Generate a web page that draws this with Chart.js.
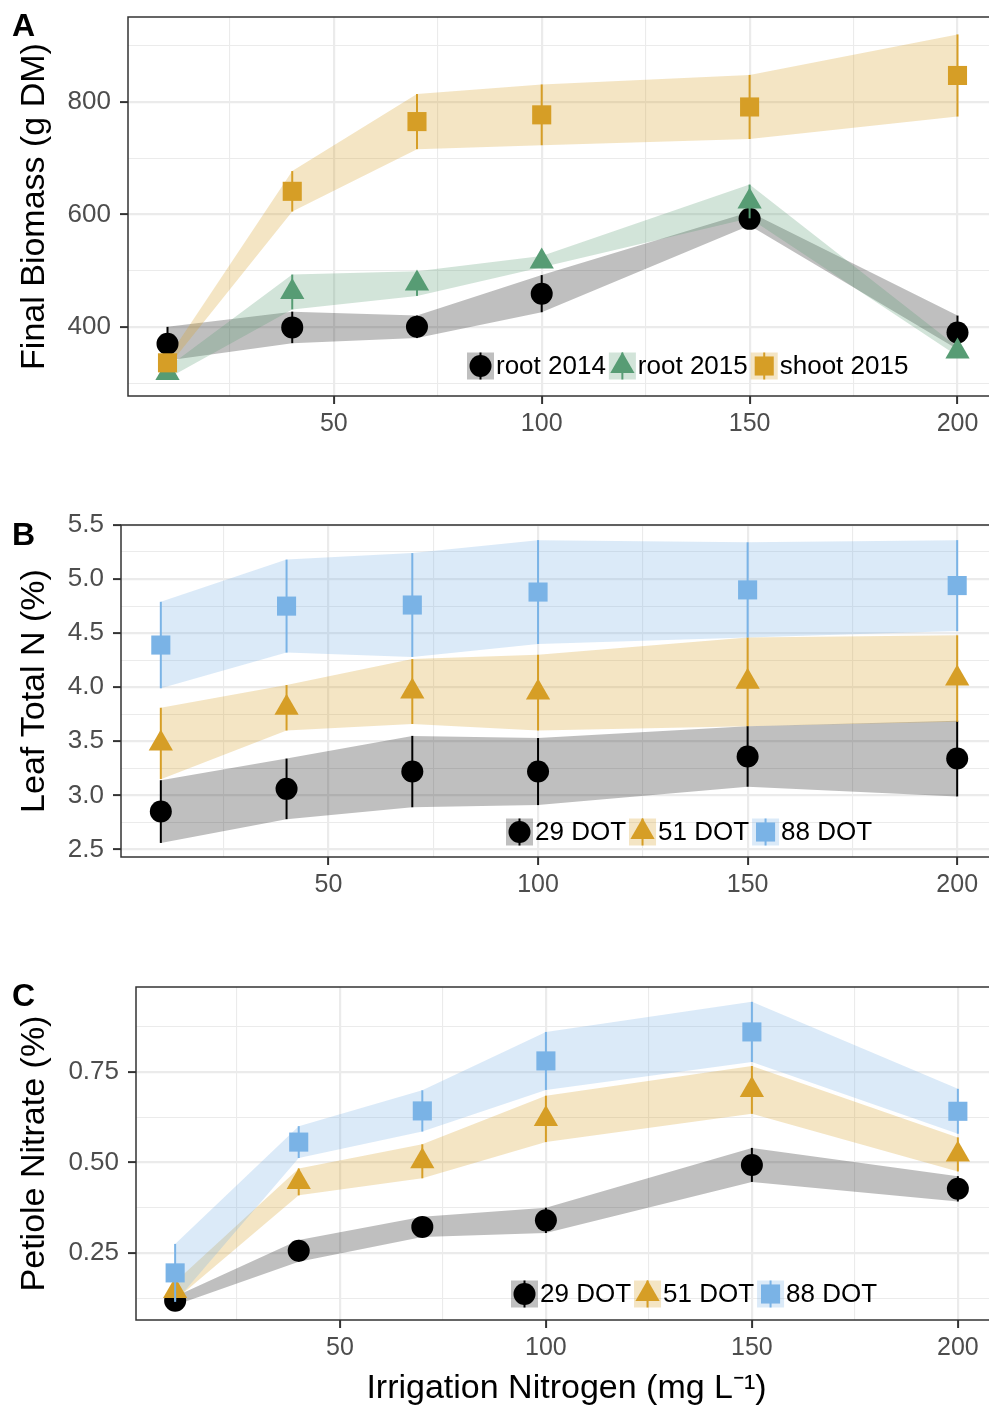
<!DOCTYPE html>
<html>
<head>
<meta charset="utf-8">
<script src="https://cdn.jsdelivr.net/npm/chart.js@4.4.0/dist/chart.umd.min.js"></script>
<style>
html, body { margin: 0; padding: 0; background: #fff; overflow: hidden; width: 989px; height: 1411px; position: relative; }
canvas { position: absolute; left: 0; }
</style>
</head>
<body>
<canvas id="chartA" width="997" height="441" style="top:0;width:997px;height:441px"></canvas>
<canvas id="chartB" width="997" height="432" style="top:470px;width:997px;height:432px"></canvas>
<canvas id="chartC" width="997" height="461" style="top:950px;width:997px;height:461px"></canvas>
<script>
// irrigation nitrogen levels (mg/L)
const nitrogen = [10, 40, 70, 100, 150, 200];
const xTicks = [25, 50, 75, 100, 125, 150, 175, 200];
const xLabels = [50, 100, 150, 200];

// A: final biomass (g DM), mean and SE
const root2014 = [370, 399, 400, 459, 592, 390];
const root2014Se = [30, 28, 20, 33, 12, 30];
const root2015 = [318, 462, 477, 516, 623, 356];
const root2015Se = [10, 31, 22, 10, 30, 8];
const shoot2015 = [336, 641, 765, 777, 791, 847];
const shoot2015Se = [8, 36, 49, 54, 57, 73];
const biomassTicks = [300, 400, 500, 600, 700, 800, 900];
const biomassLabels = [400, 600, 800];

// B: leaf total N (%)
const leafN29 = [2.85, 3.06, 3.22, 3.22, 3.36, 3.34];
const leafN29Se = [0.29, 0.28, 0.33, 0.31, 0.28, 0.35];
const leafN51 = [3.48, 3.81, 3.96, 3.95, 4.05, 4.08];
const leafN51Se = [0.33, 0.21, 0.30, 0.35, 0.41, 0.40];
const leafN88 = [4.39, 4.75, 4.76, 4.88, 4.90, 4.94];
const leafN88Se = [0.40, 0.43, 0.48, 0.48, 0.44, 0.42];
const leafTicks = [2.5, 2.75, 3.0, 3.25, 3.5, 3.75, 4.0, 4.25, 4.5, 4.75, 5.0, 5.25, 5.5];
const leafLabels = [2.5, 3.0, 3.5, 4.0, 4.5, 5.0, 5.5];

// C: petiole nitrate (%)
const nitrate29 = [0.118, 0.256, 0.322, 0.340, 0.493, 0.427];
const nitrate29Se = [0.012, 0.03, 0.028, 0.035, 0.047, 0.035];
const nitrate51 = [0.145, 0.446, 0.503, 0.620, 0.700, 0.522];
const nitrate51Se = [0.025, 0.037, 0.047, 0.064, 0.066, 0.047];
const nitrate88 = [0.195, 0.556, 0.642, 0.780, 0.860, 0.641];
const nitrate88Se = [0.08, 0.044, 0.057, 0.08, 0.083, 0.062];
const nitrateTicks = [0.125, 0.25, 0.375, 0.5, 0.625, 0.75, 0.875];
const nitrateLabels = [0.25, 0.5, 0.75];

const FONT = "'Liberation Sans', Arial, Helvetica, sans-serif";
Chart.defaults.font.family = FONT;
Chart.defaults.color = '#4d4d4d';

const BLACK = '#000000', ORANGE = '#D69E26', GREEN = '#579C74', BLUE = '#7AB3E6';
const fade = (hex, a) => {
    const n = parseInt(hex.slice(1), 16);
    return `rgba(${n >> 16},${(n >> 8) & 255},${n & 255},${a})`;
};

function band(values, se, sign) {
    return nitrogen.map((x, i) => ({ x: x, y: values[i] + sign * se[i] }));
}

function gridOpts(majors) {
    const isMajor = ctx => ctx.tick && majors.some(m => Math.abs(m - ctx.tick.value) < 1e-9);
    return {
        color: '#ebebeb',
        lineWidth: ctx => isMajor(ctx) ? 2.2 : 1.1,
        tickColor: ctx => isMajor(ctx) ? '#333333' : 'rgba(0,0,0,0)',
        tickWidth: 2,
        tickLength: 8
    };
}

const errorBars = {
    id: 'errorBars',
    beforeDatasetDraw(chart, args) {
        const ds = chart.data.datasets[args.index];
        if (!ds.err) return;
        const ctx = chart.ctx, x = chart.scales.x, y = chart.scales.y;
        ctx.save();
        ctx.strokeStyle = ds.errColor;
        ctx.lineWidth = 2;
        ds.data.forEach((p, i) => {
            const px = x.getPixelForValue(p.x);
            ctx.beginPath();
            ctx.moveTo(px, y.getPixelForValue(p.y + ds.err[i]));
            ctx.lineTo(px, y.getPixelForValue(p.y - ds.err[i]));
            ctx.stroke();
        });
        ctx.restore();
    }
};

const panelBorder = {
    id: 'panelBorder',
    afterDatasetsDraw(chart) {
        const a = chart.chartArea, ctx = chart.ctx;
        ctx.save();
        ctx.strokeStyle = '#333333';
        ctx.lineWidth = 1.5;
        ctx.strokeRect(a.left, a.top, a.right - a.left, a.bottom - a.top);
        ctx.restore();
    }
};

const keyAndLetter = {
    id: 'keyAndLetter',
    afterDraw(chart, args, opts) {
        const ctx = chart.ctx;
        ctx.save();
        // panel letter
        ctx.fillStyle = '#000';
        ctx.font = `bold 32px ${FONT}`;
        ctx.textBaseline = 'alphabetic';
        ctx.textAlign = 'left';
        ctx.fillText(opts.letter, 12, opts.letterY);
        // legend
        let x = opts.x;
        const cy = opts.y, box = 27;
        ctx.font = `26px ${FONT}`;
        ctx.textBaseline = 'middle';
        opts.series.forEach(s => {
            ctx.fillStyle = s.ribbon;
            ctx.fillRect(x, cy - box / 2, box, box);
            ctx.strokeStyle = s.color;
            ctx.lineWidth = 2;
            ctx.beginPath();
            ctx.moveTo(x + box / 2, cy - box / 2);
            ctx.lineTo(x + box / 2, cy + box / 2);
            ctx.stroke();
            ctx.fillStyle = s.color;
            Chart.helpers.drawPoint(ctx, { pointStyle: s.style, radius: s.radius, rotation: 0, borderWidth: 0 }, x + box / 2, cy);
            ctx.fillStyle = '#000';
            ctx.fillText(s.label, x + box + 2, cy + 1);
            x += box + 2 + ctx.measureText(s.label).width + 3;
        });
        ctx.restore();
    }
};

function makePanel(id, p) {
    const datasets = [];
    const n = p.series.length;
    p.series.forEach((s, i) => {
        datasets.push({ data: band(s.values, s.se, 1), borderColor: 'rgba(0,0,0,0)', borderWidth: 0,
            pointRadius: 0, fill: false, order: 20 + n - i });
        datasets.push({ data: band(s.values, s.se, -1), borderColor: 'rgba(0,0,0,0)', borderWidth: 0,
            pointRadius: 0, fill: '-1', backgroundColor: s.ribbon, order: 20 + n - i });
        datasets.push({ label: s.label, data: nitrogen.map((x, j) => ({ x: x, y: s.values[j] })),
            showLine: false, pointStyle: s.style, pointRadius: s.radius, pointBackgroundColor: s.color,
            pointBorderWidth: 0, pointHoverRadius: s.radius, err: s.se, errColor: s.color, order: n - i });
    });

    return new Chart(document.getElementById(id), {
        type: 'line',
        data: { datasets: datasets },
        plugins: [errorBars, panelBorder, keyAndLetter],
        options: {
            responsive: false,
            animation: false,
            devicePixelRatio: 1,
            layout: { autoPadding: false, padding: { top: p.padTop, left: 0, right: 0, bottom: 0 } },
            plugins: {
                legend: { display: false },
                tooltip: { enabled: false },
                keyAndLetter: { letter: p.letter, letterY: p.letterY, x: p.legendX, y: p.legendY, series: p.series }
            },
            scales: {
                x: {
                    type: 'linear', min: 0.5, max: 209.5,
                    afterBuildTicks: sc => { sc.ticks = xTicks.map(v => ({ value: v })); },
                    afterFit: sc => { sc.height = p.xHeight; sc.paddingLeft = 0; sc.paddingRight = 0; },
                    ticks: { callback: v => xLabels.includes(v) ? String(v) : '', font: { size: 25 },
                        color: '#4d4d4d', padding: 5, maxRotation: 0, autoSkip: false },
                    grid: gridOpts(xLabels),
                    border: { display: false },
                    title: p.xTitle
                        ? { display: true, text: p.xTitle, color: '#000', font: { size: 34 }, padding: { top: 0, bottom: 2 } }
                        : { display: false }
                },
                y: {
                    type: 'linear', min: p.yMin, max: p.yMax,
                    afterBuildTicks: sc => { sc.ticks = p.yTicks.map(v => ({ value: v })); },
                    afterFit: sc => { sc.width = p.left; sc.paddingTop = 0; sc.paddingBottom = 0; },
                    ticks: {
                        callback: v => p.yLabels.some(m => Math.abs(m - v) < 1e-9) ? v.toFixed(p.digits) : '',
                        font: { size: 26 }, color: '#4d4d4d', padding: 9, autoSkip: false
                    },
                    grid: gridOpts(p.yLabels),
                    border: { display: false },
                    title: { display: true, text: p.yTitle, color: '#000', font: { size: 34 }, padding: { top: 14, bottom: 0 } }
                }
            }
        }
    });
}

const rib = 0.27;

makePanel('chartA', {
    letter: 'A', letterY: 36, padTop: 17, xHeight: 45, left: 128,
    yMin: 277, yMax: 951, yTicks: biomassTicks, yLabels: biomassLabels, digits: 0,
    yTitle: 'Final Biomass (g DM)',
    legendX: 467, legendY: 366,
    series: [
        { label: 'root 2014', values: root2014, se: root2014Se, color: BLACK, ribbon: fade(BLACK, 0.25), style: 'circle', radius: 11 },
        { label: 'root 2015', values: root2015, se: root2015Se, color: GREEN, ribbon: fade(GREEN, rib), style: 'triangle', radius: 14 },
        { label: 'shoot 2015', values: shoot2015, se: shoot2015Se, color: ORANGE, ribbon: fade(ORANGE, rib), style: 'rect', radius: 13.5 }
    ]
});

makePanel('chartB', {
    letter: 'B', letterY: 545 - 470, padTop: 55, xHeight: 45, left: 121,
    yMin: 2.43, yMax: 5.5, yTicks: leafTicks, yLabels: leafLabels, digits: 1,
    yTitle: 'Leaf Total N (%)',
    legendX: 506, legendY: 832 - 470,
    series: [
        { label: '29 DOT', values: leafN29, se: leafN29Se, color: BLACK, ribbon: fade(BLACK, 0.25), style: 'circle', radius: 11 },
        { label: '51 DOT', values: leafN51, se: leafN51Se, color: ORANGE, ribbon: fade(ORANGE, rib), style: 'triangle', radius: 14 },
        { label: '88 DOT', values: leafN88, se: leafN88Se, color: BLUE, ribbon: fade(BLUE, rib), style: 'rect', radius: 13.5 }
    ]
});

makePanel('chartC', {
    letter: 'C', letterY: 1006 - 950, padTop: 37, xHeight: 91, left: 136,
    yMin: 0.065, yMax: 0.984, yTicks: nitrateTicks, yLabels: nitrateLabels, digits: 2,
    yTitle: 'Petiole Nitrate (%)',
    xTitle: 'Irrigation Nitrogen (mg L\u207B\u00B9)',
    legendX: 511, legendY: 1294 - 950,
    series: [
        { label: '29 DOT', values: nitrate29, se: nitrate29Se, color: BLACK, ribbon: fade(BLACK, 0.25), style: 'circle', radius: 11 },
        { label: '51 DOT', values: nitrate51, se: nitrate51Se, color: ORANGE, ribbon: fade(ORANGE, rib), style: 'triangle', radius: 14 },
        { label: '88 DOT', values: nitrate88, se: nitrate88Se, color: BLUE, ribbon: fade(BLUE, rib), style: 'rect', radius: 13.5 }
    ]
});
</script>
</body>
</html>
